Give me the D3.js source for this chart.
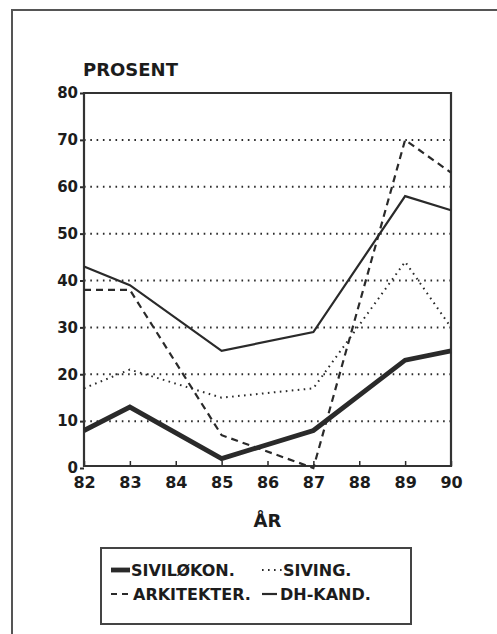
<!DOCTYPE html>
<html>
<head>
<meta charset="utf-8">
<script src="https://cdn.jsdelivr.net/npm/d3@7"></script>
<style>
  body { margin: 0; background: #fff; }
  svg text { font-family: "DejaVu Sans", sans-serif; font-weight: bold; fill: #1c1c1c; }
</style>
</head>
<body>
<div id="chart"></div>
<script>
let years = [82, 83, 85, 87, 89, 90];
let sivilokon = [8, 13, 2, 8, 23, 25];
let siving = [17, 21, 15, 17, 44, 30];
let arkitekter = [38, 38, 7, 0, 70, 63];
let dh_kand = [43, 39, 25, 29, 58, 55];

let x_ticks = [82, 83, 84, 85, 86, 87, 88, 89, 90];
let y_ticks = [0, 10, 20, 30, 40, 50, 60, 70, 80];
let grid_values = [10, 20, 30, 40, 50, 60, 70];

let series_names = ["SIVILØKON.", "SIVING.", "ARKITEKTER.", "DH-KAND."];

let graph_config = {
  width: 497,
  height: 634,
  margin: { left: 84, right: 46, top: 93, bottom: 169 }
};
let { width, height, margin } = graph_config;
let inner_w = width - margin.left - margin.right;
let inner_h = height - margin.top - margin.bottom + 3;

let ink = "#2a2a2a";

let svg = d3.select("#chart").append("svg")
  .attr("width", width)
  .attr("height", height);

// outer frame (cut off at right and bottom in the scan)
svg.append("path")
  .attr("d", "M12,640 L12,10 L500,10")
  .attr("fill", "none")
  .attr("stroke", "#555")
  .attr("stroke-width", 2);

let g = svg.append("g")
  .attr("transform", "translate(" + margin.left + "," + margin.top + ")");

let x_scale = d3.scaleLinear().domain([82, 90]).range([0, inner_w]);
let y_scale = d3.scaleLinear().domain([0, 80]).range([inner_h, 0]);

// dotted gridlines
g.selectAll(".grid")
  .data(grid_values)
  .enter()
  .append("line")
  .attr("class", "grid")
  .attr("x1", 0)
  .attr("x2", inner_w)
  .attr("y1", d => y_scale(d))
  .attr("y2", d => y_scale(d))
  .attr("stroke", ink)
  .attr("stroke-width", 2)
  .attr("stroke-dasharray", "1.6,4.7");

// y axis
let y_axis = g.append("g")
  .call(d3.axisLeft(y_scale).tickValues(y_ticks).tickSize(4).tickSizeOuter(0).tickPadding(2));
y_axis.select(".domain").remove();
y_axis.selectAll(".tick line").attr("stroke", ink).attr("stroke-width", 2);
y_axis.selectAll(".tick text").style("font-size", "15px").attr("fill", "#1c1c1c");

// x axis, ticks pointing up into the plot
let x_axis = g.append("g")
  .attr("transform", "translate(0," + (inner_h - 2) + ")")
  .call(d3.axisBottom(x_scale).tickValues(x_ticks).tickSizeInner(-5).tickSizeOuter(0).tickPadding(11).tickFormat(d3.format("d")));
x_axis.select(".domain").remove();
x_axis.selectAll(".tick line").attr("stroke", ink).attr("stroke-width", 1.5);
x_axis.selectAll(".tick text").style("font-size", "16px").attr("fill", "#1c1c1c");

// plot frame
g.append("path")
  .attr("d", "M0," + (inner_h - 2) + " L0,0 L" + inner_w + ",0 L" + inner_w + "," + (inner_h - 2) + " Z")
  .attr("fill", "none")
  .attr("stroke", "#333")
  .attr("stroke-width", 2.2);

let line = d3.line()
  .x(d => x_scale(d[0]))
  .y(d => y_scale(d[1]));

let series = [
  { values: sivilokon, width: 4.8, dash: null },
  { values: siving, width: 2, dash: "1.6,4.4" },
  { values: arkitekter, width: 2.2, dash: "7,5" },
  { values: dh_kand, width: 2.2, dash: null }
];

g.selectAll(".series")
  .data(series)
  .enter()
  .append("path")
  .attr("class", "series")
  .attr("d", s => line(years.map((y, i) => [y, s.values[i]])))
  .attr("fill", "none")
  .attr("stroke", ink)
  .attr("stroke-width", s => s.width)
  .attr("stroke-dasharray", s => s.dash)
  .attr("stroke-linejoin", "miter");

// axis titles
svg.append("text")
  .attr("x", 83)
  .attr("y", 76)
  .style("font-size", "18px")
  .text("PROSENT");

svg.append("text")
  .attr("x", margin.left + inner_w / 2)
  .attr("y", 527)
  .attr("text-anchor", "middle")
  .style("font-size", "18px")
  .text("ÅR");

// legend
let legend = svg.append("g");
legend.append("rect")
  .attr("x", 101)
  .attr("y", 548)
  .attr("width", 310)
  .attr("height", 76)
  .attr("fill", "none")
  .attr("stroke", "#444")
  .attr("stroke-width", 2);

let legend_pos = [
  { sx: 111, ex: 130, tx: 131, y: 576 },
  { sx: 262, ex: 282, tx: 283, y: 576 },
  { sx: 111, ex: 131, tx: 133, y: 600 },
  { sx: 262, ex: 277, tx: 280, y: 600 }
];

series.forEach((s, i) => {
  let p = legend_pos[i];
  legend.append("line")
    .attr("x1", p.sx)
    .attr("x2", p.ex)
    .attr("y1", p.y - 6)
    .attr("y2", p.y - 6)
    .attr("stroke", ink)
    .attr("stroke-width", s.width)
    .attr("stroke-dasharray", i === 2 ? "6,5" : s.dash);
  legend.append("text")
    .attr("x", p.tx)
    .attr("y", p.y)
    .style("font-size", "16px")
    .text(series_names[i]);
});
</script>
</body>
</html>
